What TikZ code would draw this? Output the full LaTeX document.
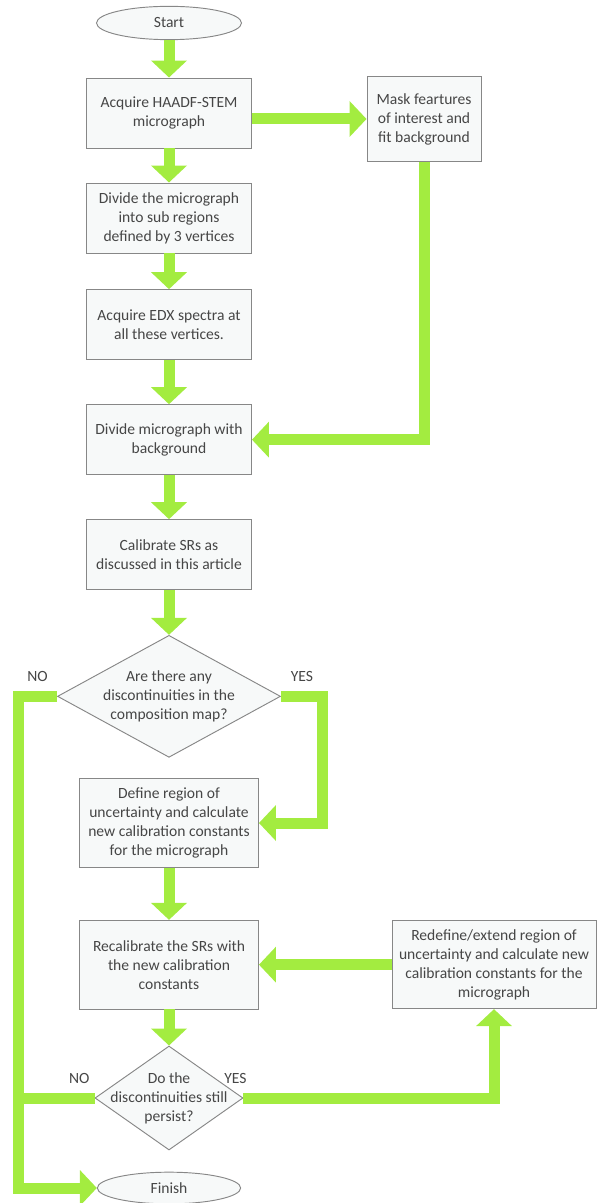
\documentclass[tikz,border=0pt]{standalone}
\usepackage{fontspec}
\setmainfont{Carlito}
\usetikzlibrary{positioning, shapes.geometric, arrows.meta}

\definecolor{flowgreen}{RGB}{163,236,64}
\definecolor{boxfill}{RGB}{247,249,249}
\definecolor{boxline}{RGB}{135,135,135}
\definecolor{textgray}{RGB}{70,70,70}

\begin{document}
\begin{tikzpicture}[node distance=3.3cm, auto,
    every node/.append style={font=\fontsize{13.3}{16.2}\selectfont, text=textgray},
    process/.style={rectangle, draw=boxline, fill=boxfill, line width=0.8pt, align=center, minimum width=4.95cm, minimum height=2.1cm},
    terminal/.style={ellipse, draw=boxline, fill=boxfill, line width=0.8pt, minimum width=4.35cm, minimum height=1cm},
    decision/.style={diamond, draw=boxline, fill=boxfill, line width=0.8pt, inner sep=0pt},
    flow/.style={draw=flowgreen, line width=0.33cm, -{Triangle[width=1.05cm, length=0.51cm]}},
    flowline/.style={draw=flowgreen, line width=0.33cm},
    answer/.style={above=0.15cm}]

    \useasboundingbox (-5.07,0.69) rectangle (12.84,-35.4);

    % main column
    \node (start) [terminal] {Start};
    \node (acquire) [process, below of=start, yshift=0.6cm] {Acquire HAADF-STEM\\micrograph};
    \node (divide) [process, below of=acquire, yshift=0.15cm] {Divide the micrograph\\into sub regions\\defined by 3 vertices};
    \node (edx) [process, below of=divide, yshift=0.1cm] {Acquire EDX spectra at\\all these vertices.};
    \node (bgdiv) [process, below of=edx, yshift=-0.15cm] {Divide micrograph with\\background};
    \node (calib) [process, below of=bgdiv, yshift=-0.15cm] {Calibrate SRs as\\discussed in this article};
    \node (ask) [decision, below of=calib, yshift=-0.95cm, minimum width=6.69cm, minimum height=3.66cm,
        label={[align=center]center:Are there any\\discontinuities in the\\composition map?}] {};
    \node (define) [process, below of=ask, yshift=-0.5cm, minimum width=5.37cm, minimum height=2.66cm] {Define region of\\uncertainty and calculate\\new calibration constants\\for the micrograph};
    \node (recal) [process, below of=define, yshift=-0.95cm, minimum width=5.37cm, minimum height=2.66cm] {Recalibrate the SRs with\\the new calibration\\constants};
    \node (persist) [decision, below of=recal, yshift=-0.7cm, minimum width=4.44cm, minimum height=3.12cm,
        label={[align=center]center:Do the\\discontinuities still\\persist?}] {};
    \node (finish) [terminal, below of=persist, yshift=0.6cm, minimum width=4.3cm, minimum height=0.95cm] {Finish};

    % side boxes
    \node (mask) [process, right of=acquire, xshift=4.35cm, yshift=-0.18cm, minimum width=3.42cm, minimum height=2.55cm] {Mask feartures\\of interest and\\fit background};
    \node (redefine) [process, right of=recal, xshift=6.45cm, minimum width=6.12cm, minimum height=2.64cm] {Redefine/extend region of\\uncertainty and calculate new\\calibration constants for the\\micrograph};

    % straight steps
    \draw[flow] (start) -- (acquire);
    \draw[flow] (acquire) -- (divide);
    \draw[flow] (divide) -- (edx);
    \draw[flow] (edx) -- (bgdiv);
    \draw[flow] (bgdiv) -- (calib);
    \draw[flow] (calib) -- (ask);
    \draw[flow] (define) -- (recal);
    \draw[flow] (recal) -- (persist);

    % background branch
    \draw[flow] (acquire.east |- mask) -- (mask);
    \draw[flow] (mask) |- (bgdiv);

    % answers of the first question
    \coordinate (nobend) at ([xshift=-1.17cm]ask.west);
    \draw[flow] (ask.west) -- node[answer] {NO} (nobend) |- (finish);
    \draw[flow] (ask.east) -- node[answer] {YES} ++(1.26,0) |- (define);

    % answers of the second question
    \draw[flowline] (persist.west) -- node[answer, pos=0.2] {NO} (persist.west -| nobend);
    \draw[flow] (persist.east) -| node[answer, pos=0, xshift=-0.24cm] {YES} (redefine);
    \draw[flow] (redefine) -- (recal);

\end{tikzpicture}
\end{document}
